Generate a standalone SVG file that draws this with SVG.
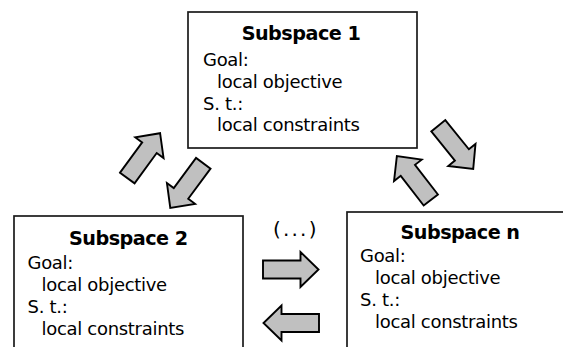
<svg xmlns="http://www.w3.org/2000/svg" xmlns:xlink="http://www.w3.org/1999/xlink" width="563" height="347" viewBox="0 0 563 347">
  <style>
    .box { fill: #ffffff; stroke: #1a1a1a; stroke-width: 1.7; }
    .title { font-family: "DejaVu Sans", Verdana, sans-serif; font-weight: bold; font-size: 19.2px; letter-spacing: -0.5px; fill: #000; text-anchor: middle; }
    .txt { font-family: "DejaVu Sans", Verdana, sans-serif; font-size: 18px; letter-spacing: -0.3px; fill: #000; }
    .arrow { fill: #c0c0c0; stroke: #000; stroke-width: 1.9; stroke-linejoin: miter; }
    .dots { font-family: "DejaVu Sans", Verdana, sans-serif; font-size: 20px; fill: #000; letter-spacing: 2.2px; }
  </style>
  <defs>
    <!-- block arrow pointing along +x, tail at origin -->
    <polygon id="block-arrow" class="arrow" points="0,-9 37.5,-9 37.5,-17.5 55.5,0 37.5,17.5 37.5,9 0,9"/>
  </defs>

  <g id="subspace-1">
    <rect class="box" x="188" y="12" width="229" height="136"/>
    <text class="title" x="301" y="40">Subspace 1</text>
    <text class="txt" x="203" y="66">Goal:</text>
    <text class="txt" x="217" y="88">local objective</text>
    <text class="txt" x="203" y="109.5">S. t.:</text>
    <text class="txt" x="217" y="131">local constraints</text>
  </g>

  <g id="subspace-2">
    <rect class="box" x="14" y="216" width="229" height="150"/>
    <text class="title" x="128.3" y="245">Subspace 2</text>
    <text class="txt" x="27.5" y="268.5">Goal:</text>
    <text class="txt" x="41.5" y="290.5">local objective</text>
    <text class="txt" x="27.5" y="312.5">S. t.:</text>
    <text class="txt" x="41.5" y="334.5">local constraints</text>
  </g>

  <g id="subspace-n">
    <rect class="box" x="347" y="212" width="230" height="150"/>
    <text class="title" x="460" y="238.5">Subspace n</text>
    <text class="txt" x="360" y="261.5">Goal:</text>
    <text class="txt" x="375" y="283.5">local objective</text>
    <text class="txt" x="360" y="305.5">S. t.:</text>
    <text class="txt" x="375" y="327.5">local constraints</text>
  </g>

  <g id="ellipsis-label">
    <text class="dots" x="273" y="236">(...)</text>
  </g>

  <g id="connectors">
    <use xlink:href="#block-arrow" transform="translate(127.3,178) rotate(-53.8)"/>
    <use xlink:href="#block-arrow" transform="translate(203.3,163.3) rotate(126.5)"/>
    <use xlink:href="#block-arrow" transform="translate(438.3,125.8) rotate(51)"/>
    <use xlink:href="#block-arrow" transform="translate(430.8,200) rotate(-127.7)"/>
    <use xlink:href="#block-arrow" transform="translate(263,269.5)"/>
    <use xlink:href="#block-arrow" transform="translate(319,323) rotate(180)"/>
  </g>
</svg>
